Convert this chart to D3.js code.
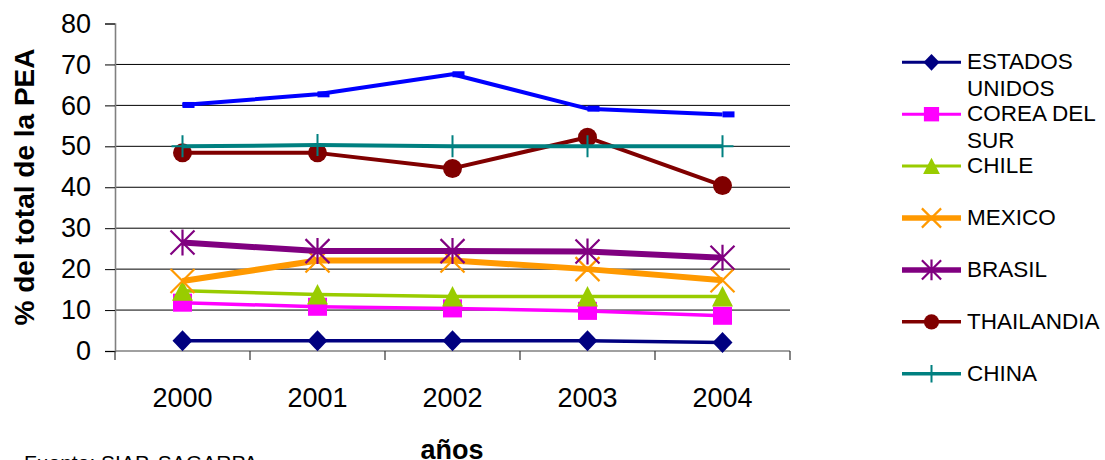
<!DOCTYPE html>
<html>
<head>
<meta charset="utf-8">
<script src="https://cdn.jsdelivr.net/npm/d3@7"></script>
<style>
  body { margin: 0; background: #fff; }
  svg { display: block; }
  text { font-family: "Liberation Sans", Arial, sans-serif; fill: #000; }
</style>
</head>
<body>
<svg id="chart" width="1105" height="460"></svg>
<script>
// Participación de la PEA agrícola, % del total
const years = ["2000", "2001", "2002", "2003", "2004"];
const yTicks = [0, 10, 20, 30, 40, 50, 60, 70, 80];
const seriesNames = ["ESTADOS UNIDOS", "COREA DEL SUR", "CHILE", "MEXICO", "BRASIL", "THAILANDIA", "CHINA"];

const estadosUnidos = [2.5, 2.5, 2.5, 2.5, 2.1];
const coreaDelSur   = [11.8, 10.8, 10.4, 9.8, 8.6];
const chile         = [14.7, 13.8, 13.3, 13.3, 13.3];
const mexico        = [17.1, 22.1, 22.1, 20.0, 17.3];
const brasil        = [26.5, 24.4, 24.4, 24.3, 22.8];
const thailandia    = [48.4, 48.4, 44.6, 52.2, 40.4];
const china         = [50.0, 50.3, 50.0, 50.0, 50.0];
const serieSinLeyenda = [60.1, 62.7, 67.6, 59.2, 57.8];

const legendValues = [estadosUnidos, coreaDelSur, chile, mexico, brasil, thailandia, china];

// drawing styles per series (legend order)
const styles = [
  { color: "#000080", width: 3.5, marker: "diamond" },
  { color: "#FF00FF", width: 3.5, marker: "square" },
  { color: "#99CC00", width: 3.5, marker: "triangle" },
  { color: "#FF9900", width: 6,   marker: "cross" },
  { color: "#800080", width: 6,   marker: "star" },
  { color: "#800000", width: 4,   marker: "circle" },
  { color: "#008080", width: 4,   marker: "plus" }
];
const extraStyle = { color: "#0000FF", width: 4, marker: "dash" };

const svg = d3.select("#chart");
const plot = { left: 115, right: 790, top: 23.5, bottom: 351 };

const x = d3.scaleBand().domain(years).range([plot.left, plot.right]).padding(0);
const cx = d => x(d) + x.bandwidth() / 2;
const y = d3.scaleLinear().domain([0, 80]).range([plot.bottom, plot.top]);

// gridlines
svg.append("g")
  .selectAll("line")
  .data(yTicks.filter(t => t > 0 && t < 80))
  .join("line")
  .attr("x1", plot.left).attr("x2", plot.right)
  .attr("y1", d => y(d)).attr("y2", d => y(d))
  .attr("stroke", "#000").attr("stroke-width", 1);

// y axis
const yAxis = svg.append("g")
  .attr("transform", `translate(${plot.left},0)`)
  .call(d3.axisLeft(y).tickValues(yTicks).tickSize(10).tickPadding(14).tickFormat(d3.format("d")));
yAxis.select(".domain").attr("stroke", "#808080").attr("stroke-width", 1.6);
yAxis.selectAll(".tick line").attr("stroke", "#000").attr("stroke-width", 1);
yAxis.selectAll(".tick text")
  .attr("font-size", 27).attr("font-family", "Liberation Sans, Arial, sans-serif").attr("fill", "#000");

// x axis: ticks between categories, labels centred
const xAxisG = svg.append("g").attr("transform", `translate(0,${plot.bottom})`);
xAxisG.append("line")
  .attr("x1", plot.left).attr("x2", plot.right)
  .attr("stroke", "#808080").attr("stroke-width", 1.6);
const boundaries = years.map(d => x(d)).concat([plot.right]);
xAxisG.selectAll("line.tk").data(boundaries).join("line").attr("class", "tk")
  .attr("x1", d => d).attr("x2", d => d).attr("y1", 0).attr("y2", 9)
  .attr("stroke", "#333").attr("stroke-width", 1.2);
xAxisG.selectAll("text").data(years).join("text")
  .attr("x", d => cx(d)).attr("y", 56)
  .attr("text-anchor", "middle").attr("font-size", 27)
  .text(d => d);

// axis titles
svg.append("text")
  .attr("transform", `translate(34,187) rotate(-90)`)
  .attr("text-anchor", "middle").attr("font-size", 28).attr("font-weight", "bold")
  .text("% del total de la PEA");
svg.append("text")
  .attr("x", 452).attr("y", 459)
  .attr("text-anchor", "middle").attr("font-size", 27).attr("font-weight", "bold")
  .text("años");
svg.append("text")
  .attr("x", 24).attr("y", 470)
  .attr("font-size", 21)
  .text("Fuente: SIAP, SAGARPA");

// marker painter
function drawMarker(g, type, color, k) {
  switch (type) {
    case "diamond":
      g.append("path").attr("d", `M0,${-10.5*k}L${10*k},0L0,${10.5*k}L${-10*k},0Z`).attr("fill", color);
      break;
    case "square":
      g.append("rect").attr("x", -9.5*k).attr("y", -9*k).attr("width", 19*k).attr("height", 18*k).attr("fill", color);
      break;
    case "triangle":
      g.append("path").attr("d", `M0,${-10.5*k}L${10.5*k},${10*k}L${-10.5*k},${10*k}Z`).attr("fill", color);
      break;
    case "circle":
      g.append("circle").attr("r", 9.5*k).attr("fill", color);
      break;
    case "cross":
      g.append("path").attr("d", `M${-12*k},${-12*k}L${12*k},${12*k}M${-12*k},${12*k}L${12*k},${-12*k}`)
        .attr("stroke", color).attr("stroke-width", 2.2).attr("fill", "none");
      break;
    case "star":
      g.append("path").attr("d", `M${-12*k},${-12*k}L${12*k},${12*k}M${-12*k},${12*k}L${12*k},${-12*k}M0,${-13*k}L0,${13*k}`)
        .attr("stroke", color).attr("stroke-width", 2.2).attr("fill", "none");
      break;
    case "plus":
      g.append("path").attr("d", `M0,${-11*k}L0,${11*k}M${-11*k},0L${11*k},0`)
        .attr("stroke", color).attr("stroke-width", 2).attr("fill", "none");
      break;
    case "dash":
      g.append("rect").attr("x", 0).attr("y", -3).attr("width", 12).attr("height", 6).attr("fill", color);
      break;
  }
}

const line = d3.line().x(d => cx(d.year)).y(d => y(d.value));

function drawSeries(values, st) {
  const pts = years.map((yr, i) => ({ year: yr, value: values[i] }));
  const g = svg.append("g");
  g.append("path").datum(pts).attr("d", line)
    .attr("fill", "none").attr("stroke", st.color).attr("stroke-width", st.width)
    .attr("stroke-linejoin", "round");
  pts.forEach(p => {
    const m = g.append("g").attr("transform", `translate(${cx(p.year)},${y(p.value)})`);
    drawMarker(m, st.marker, st.color, 1);
  });
}

drawSeries(serieSinLeyenda, extraStyle);
legendValues.forEach((vals, i) => drawSeries(vals, styles[i]));

// legend
const legend = svg.append("g");
const legendTop = 62.3, legendStep = 51.9, maxTextW = 138;
seriesNames.forEach((name, i) => {
  const st = styles[i];
  const ly = legendTop + i * legendStep;
  const g = legend.append("g").attr("transform", `translate(0,${ly})`);
  g.append("line").attr("x1", 902).attr("x2", 961).attr("y1", 0).attr("y2", 0)
    .attr("stroke", st.color).attr("stroke-width", Math.max(3, st.width - 0.5));
  const m = g.append("g").attr("transform", "translate(931.5,0)");
  drawMarker(m, st.marker, st.color, 0.8);

  const t = g.append("text").attr("x", 967).attr("y", 7).attr("font-size", 22.5);
  // wrap words to the legend width
  const words = name.split(" ");
  let lines = [], cur = "";
  const probe = svg.append("text").attr("font-size", 22.5).attr("visibility", "hidden");
  words.forEach(w => {
    const test = cur ? cur + " " + w : w;
    probe.text(test);
    if (cur && probe.node().getComputedTextLength() > maxTextW) { lines.push(cur); cur = w; }
    else cur = test;
  });
  lines.push(cur);
  probe.remove();
  lines.forEach((ln, j) => {
    t.append("tspan").attr("x", 967).attr("dy", j === 0 ? 0 : 26.7).text(ln);
  });
});
</script>
</body>
</html>
